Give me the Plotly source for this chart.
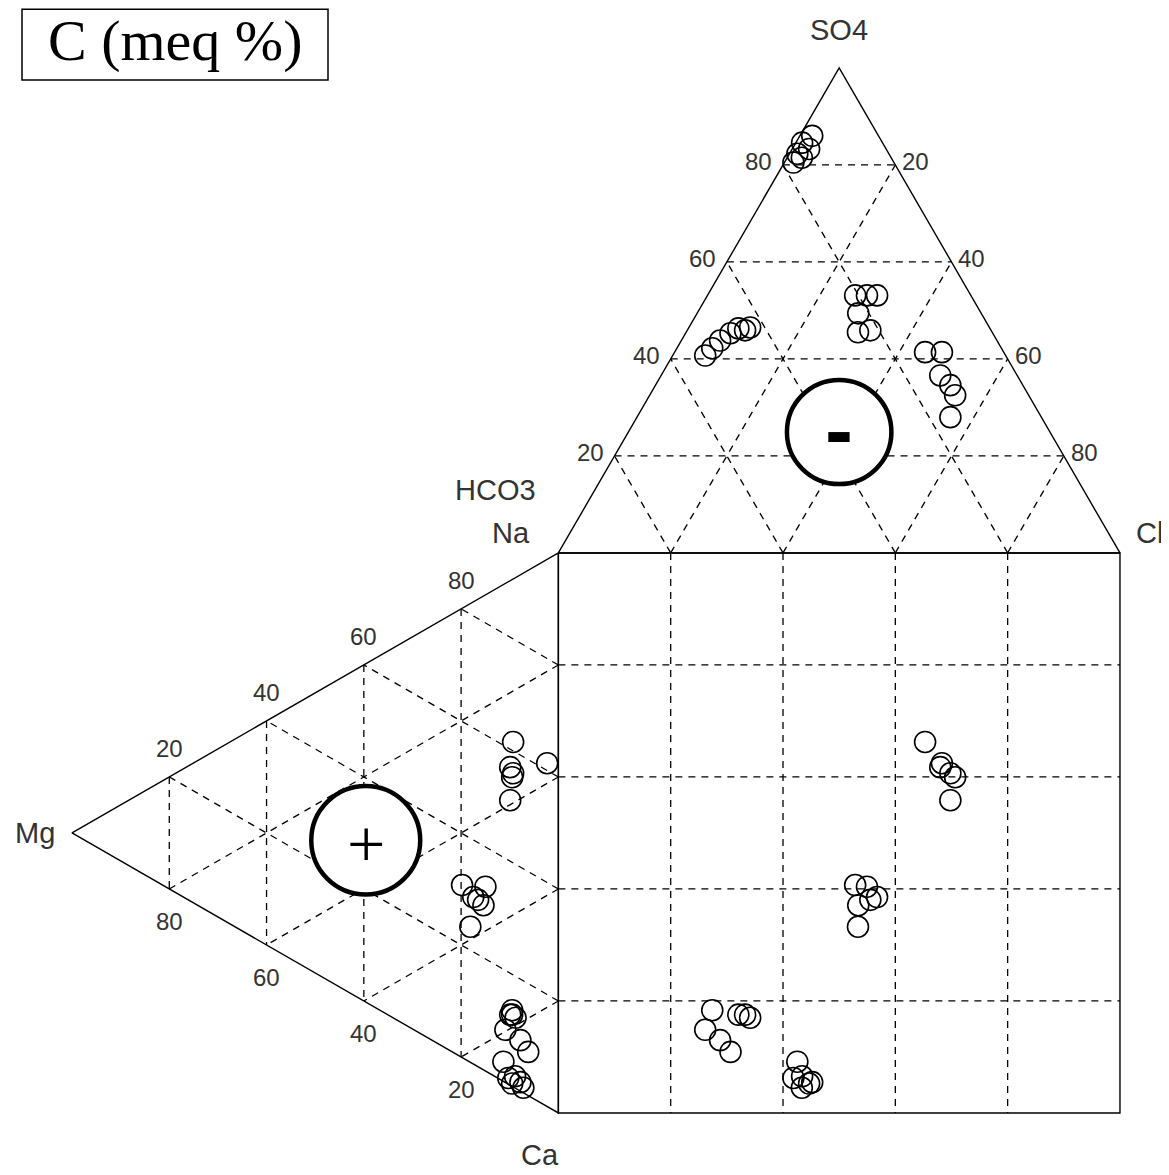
import numpy as np
from plotly import graph_objects as go

# Sample composition in meq % (cations and anions)
ca = [29.1, 36.4, 33.3, 34.7, 35.3, 39.2,
      49.4, 52.1, 52.7, 55.2, 53.7, 57.7,
      79.7, 76.9, 83.1, 86.0, 77.7, 77.5, 78.6,
      85.2, 88.6, 89.0, 90.6, 91.9, 90.0]
mg = [9.3, 2.3, 9.9, 9.3, 9.5, 9.9,
      19.8, 15.0, 17.5, 15.4, 16.5, 18.1,
      10.9, 9.5, 7.8, 6.2, 9.5, 9.9, 8.8,
      11.3, 10.3, 8.9, 7.8, 7.2, 9.5]
na = [61.6, 61.3, 56.8, 56.0, 55.2, 50.9,
      30.8, 32.9, 29.8, 29.4, 29.8, 24.2,
      9.4, 13.6, 9.1, 7.8, 12.8, 12.6, 12.6,
      3.5, 1.1, 2.1, 1.6, 0.9, 0.5]
hco3 = [14.0, 11.0, 13.7, 12.9, 13.1, 16.2,
        20.6, 18.5, 16.7, 21.9, 21.5, 23.9,
        53.5, 51.5, 49.3, 46.7, 44.8, 43.8, 42.6,
        16.3, 17.9, 14.3, 11.8, 15.9, 13.7]
so4 = [41.4, 41.4, 36.6, 34.6, 32.5, 28.0,
       53.1, 53.1, 53.1, 49.4, 45.9, 45.5,
       40.7, 42.2, 43.8, 45.3, 46.3, 45.9, 46.5,
       82.3, 80.5, 84.6, 86.0, 81.5, 83.3]
cl = [44.6, 47.6, 49.7, 52.5, 54.4, 55.8,
      26.3, 28.4, 30.2, 28.7, 32.6, 30.6,
      5.8, 6.3, 6.9, 8.0, 8.9, 10.3, 10.9,
      1.4, 1.6, 1.1, 2.2, 2.6, 3.0]

grid_vals = [20, 40, 60, 80]

H = np.sqrt(3) / 2
W, HT = 1161, 1167  # page has an 8px body margin


def top_xy(s, c):
    # anion triangle: HCO3 left, Cl right, SO4 apex
    return c + s / 2, s * H


def left_xy(calc, magn):
    # cation triangle: Na top, Ca bottom, Mg apex (left)
    return -magn * H, -(calc + magn / 2)


ca_a, mg_a, so4_a, cl_a = map(np.array, (ca, mg, so4, cl))
tx, ty = top_xy(so4_a, cl_a)
lx, ly = left_xy(ca_a, mg_a)
sx, sy = tx, ly

# outlines
ox, oy = [], []
tri_top = [top_xy(0, 0), top_xy(100, 0), top_xy(0, 100), top_xy(0, 0)]
tri_left = [left_xy(0, 0), left_xy(0, 100), left_xy(100, 0), left_xy(0, 0)]
square = [(0, 0), (100, 0), (100, -100), (0, -100), (0, 0)]
for poly in (tri_top, tri_left, square):
    ox += [p[0] for p in poly] + [None]
    oy += [p[1] for p in poly] + [None]

# dashed grid
gx, gy = [], []


def seg(p, q):
    gx.extend([p[0], q[0], None])
    gy.extend([p[1], q[1], None])


for v in grid_vals:
    # top triangle
    seg(top_xy(v, 0), top_xy(v, 100 - v))          # SO4 const
    seg(top_xy(0, v), top_xy(100 - v, v))          # Cl const
    seg(top_xy(0, 100 - v), top_xy(100 - v, 0))    # HCO3 const
    # left triangle
    seg(left_xy(0, v), left_xy(100 - v, v))        # Mg const
    seg(left_xy(v, 0), left_xy(v, 100 - v))        # Ca const
    seg(left_xy(100 - v, 0), left_xy(0, 100 - v))  # Na const
    # square
    seg((v, 0), (v, -100))
    seg((0, -v), (100, -v))

fig = go.Figure()
fig.add_trace(go.Scatter(x=gx, y=gy, mode="lines", hoverinfo="skip",
                         line=dict(color="black", width=1.3, dash="7px,6px")))
fig.add_trace(go.Scatter(x=ox, y=oy, mode="lines", hoverinfo="skip",
                         line=dict(color="black", width=1.4)))

mk = dict(symbol="circle-open", size=21, color="black", line=dict(width=1.6))
fig.add_trace(go.Scatter(x=tx, y=ty, mode="markers", marker=mk, name="Anions"))
fig.add_trace(go.Scatter(x=lx, y=ly, mode="markers", marker=mk, name="Cations"))
fig.add_trace(go.Scatter(x=sx, y=sy, mode="markers", marker=mk, name="Square"))

num_font = dict(family="Liberation Sans", size=24, color="#333")
lab_font = dict(family="Liberation Sans", size=29, color="#333")
ann = []
for v in grid_vals:
    x, y = top_xy(v, 0)
    ann.append(dict(x=x, y=y, text=str(v), xanchor="right", xshift=-9, yshift=3, font=num_font))
    x, y = top_xy(100 - v, v)
    ann.append(dict(x=x, y=y, text=str(v), xanchor="left", xshift=5, yshift=3, font=num_font))
    x, y = left_xy(0, 100 - v)
    ann.append(dict(x=x, y=y, text=str(v), yanchor="bottom", yshift=13, font=num_font))
    x, y = left_xy(100 - v, v)
    ann.append(dict(x=x, y=y, text=str(v), yanchor="top", yshift=-17, font=num_font))

corner = [("SO4", top_xy(100, 0), 0, 38), ("HCO3", top_xy(0, 0), -63, 63),
          ("Na", top_xy(0, 0), -47, 20), ("Cl", top_xy(0, 100), 30, 20),
          ("Mg", left_xy(0, 100), -37, 0), ("Ca", left_xy(100, 0), -18, -42)]
for t, (x, y), dx, dy in corner:
    ann.append(dict(x=x, y=y, text=t, xshift=dx, yshift=dy, font=lab_font))

ann.append(dict(x=50, y=21.6, text="<b>-</b>", yshift=2,
                font=dict(family="Liberation Sans", size=84, color="black")))
ann.append(dict(x=-34.3, y=-51.3, text="+", yshift=-4,
                font=dict(family="Liberation Serif", size=68, color="black")))
ann.append(dict(x=(175 - 8) / W, y=1 - (41 - 8) / HT, xref="paper", yref="paper", text="C (meq %)",
                xanchor="center", yanchor="middle",
                font=dict(family="Liberation Serif", size=58, color="black")))
for a in ann:
    a.setdefault("showarrow", False)

shapes = [
    dict(type="circle", xref="x", yref="y", x0=50 - 9.3, x1=50 + 9.3, y0=21.6 - 9.3, y1=21.6 + 9.3,
         line=dict(color="black", width=4.5), fillcolor="white", layer="above"),
    dict(type="circle", xref="x", yref="y", x0=-34.3 - 9.7, x1=-34.3 + 9.7, y0=-51.3 - 9.7, y1=-51.3 + 9.7,
         line=dict(color="black", width=4.5), fillcolor="white", layer="above"),
    dict(type="rect", xref="paper", yref="paper", x0=(22 - 8) / W, x1=(328 - 8) / W,
         y0=1 - (80 - 8) / HT, y1=0.999, line=dict(color="black", width=1.5)),
]

fig.update_layout(
    width=W, height=HT, margin=dict(l=0, r=0, t=0, b=0),
    plot_bgcolor="white", paper_bgcolor="white", showlegend=False,
    xaxis=dict(range=[-98.0, 108.73], visible=False),
    yaxis=dict(range=[-111.08, 97.31], visible=False),
    annotations=ann, shapes=shapes,
)

fig.write_html("out.html")
